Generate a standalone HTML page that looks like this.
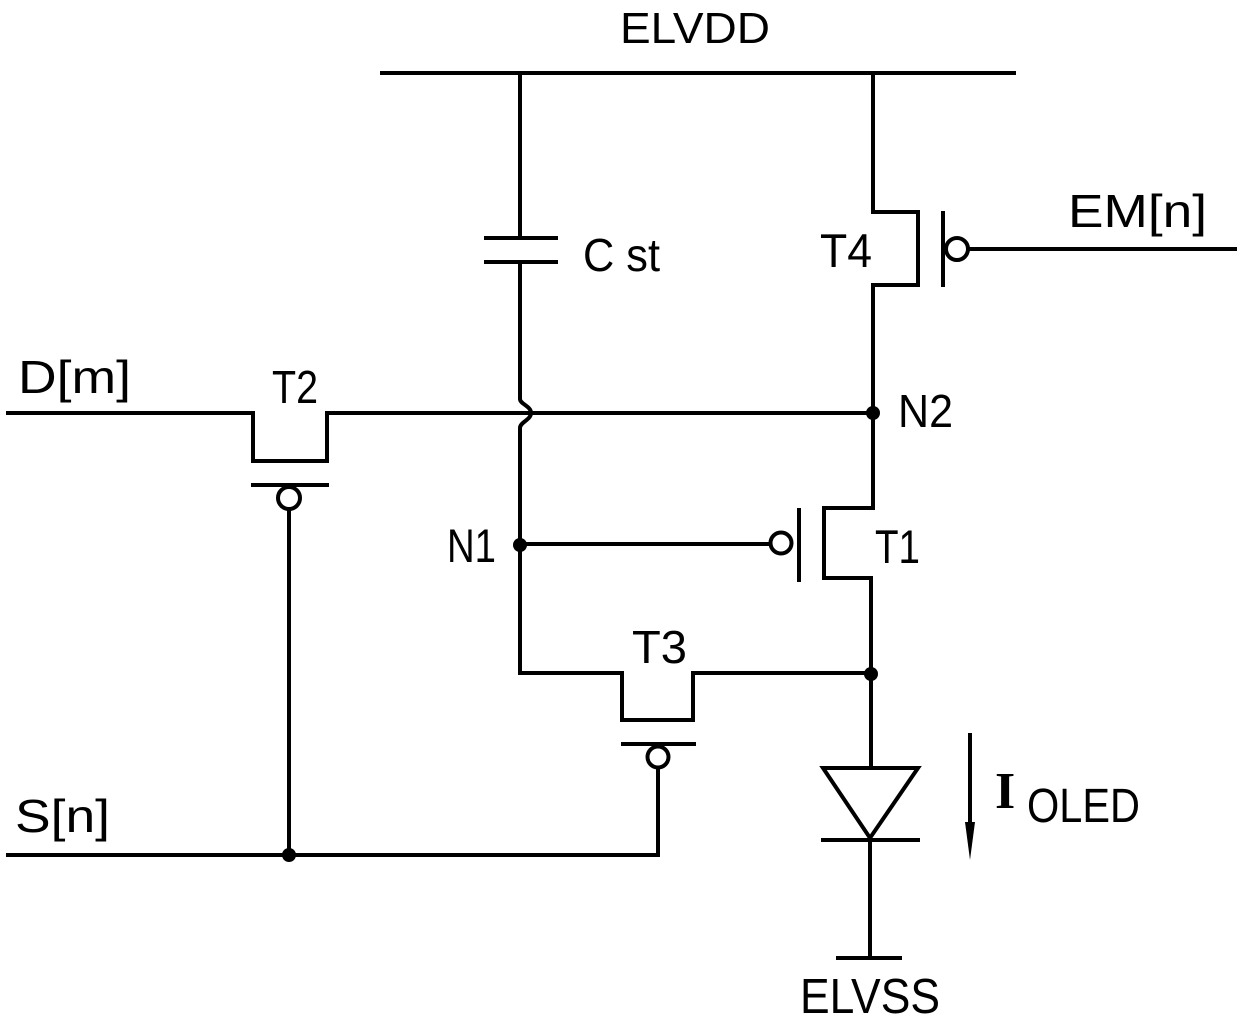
<!DOCTYPE html>
<html><head><style>
html,body{margin:0;padding:0;background:#fff;}
svg{display:block;}
text{font-family:"Liberation Sans",sans-serif;fill:#000;}
</style></head><body>
<svg width="1240" height="1024" viewBox="0 0 1240 1024" xmlns="http://www.w3.org/2000/svg">
<g stroke="#000" stroke-width="4" fill="none" stroke-linecap="square" stroke-linejoin="miter">
<line x1="382" y1="73" x2="1014" y2="73"/>
<line x1="520" y1="73" x2="520" y2="238"/>
<line x1="486" y1="238" x2="556" y2="238"/>
<line x1="486" y1="262" x2="556" y2="262"/>
<path d="M520 262 L520 399 C520 404 531 406 531 413 C531 420 520 422 520 428 L520 673 L622 673 L622 720 L693 720 L693 673 L870 673"/>
<line x1="623" y1="744" x2="694" y2="744"/>
<circle cx="658" cy="757" r="10.5"/>
<line x1="658" y1="768" x2="658" y2="855"/>
<path d="M873 73 L873 212 L918 212 L918 285 L873 285 L873 508 L824 508 L824 578 L871 578 L871 768"/>
<line x1="943" y1="213" x2="943" y2="285"/>
<circle cx="957" cy="249" r="11"/>
<line x1="968" y1="249" x2="1235" y2="249"/>
<line x1="799" y1="510" x2="799" y2="580"/>
<circle cx="781" cy="543" r="10.5"/>
<line x1="520" y1="544" x2="770" y2="544"/>
<path d="M8 413 L253 413 L253 461 L327 461 L327 413 L873 413"/>
<line x1="253" y1="485" x2="327" y2="485"/>
<circle cx="289" cy="498" r="11"/>
<line x1="289" y1="509" x2="289" y2="855"/>
<line x1="8" y1="855" x2="658" y2="855"/>
<path d="M823 768 L918 768 L870 838 Z"/>
<line x1="823" y1="840" x2="918" y2="840"/>
<line x1="870" y1="840" x2="870" y2="958"/>
<line x1="838" y1="958" x2="900" y2="958"/>
<line x1="970" y1="735" x2="970" y2="825"/>
</g>
<path d="M965 822 L975 822 L970 860 Z" fill="#000"/>
<g fill="#000">
<circle cx="873" cy="413" r="7"/>
<circle cx="520" cy="545" r="7"/>
<circle cx="871" cy="674" r="7"/>
<circle cx="289" cy="855" r="7"/>
</g>
<text x="620" y="43" font-size="44" textLength="150" lengthAdjust="spacingAndGlyphs">ELVDD</text>
<text x="1068" y="227" font-size="46" textLength="139" lengthAdjust="spacingAndGlyphs">EM[n]</text>
<text x="820" y="267" font-size="47" textLength="52" lengthAdjust="spacingAndGlyphs">T4</text>
<text x="583" y="271" font-size="46" textLength="77" lengthAdjust="spacingAndGlyphs">C st</text>
<text x="18" y="393" font-size="46" textLength="113" lengthAdjust="spacingAndGlyphs">D[m]</text>
<text x="272" y="403" font-size="46" textLength="46" lengthAdjust="spacingAndGlyphs">T2</text>
<text x="898" y="427" font-size="46" textLength="55" lengthAdjust="spacingAndGlyphs">N2</text>
<text x="447" y="562" font-size="47" textLength="49" lengthAdjust="spacingAndGlyphs">N1</text>
<text x="875" y="563" font-size="47" textLength="45" lengthAdjust="spacingAndGlyphs">T1</text>
<text x="632" y="663" font-size="46" textLength="55" lengthAdjust="spacingAndGlyphs">T3</text>
<text x="15" y="832" font-size="46" textLength="95" lengthAdjust="spacingAndGlyphs">S[n]</text>
<text x="995" y="808" font-size="52" font-weight="bold" style="font-family:'Liberation Serif',serif">I</text>
<text x="1027" y="822" font-size="48" textLength="113" lengthAdjust="spacingAndGlyphs">OLED</text>
<text x="800" y="1013" font-size="49" textLength="140" lengthAdjust="spacingAndGlyphs">ELVSS</text>
</svg>
</body></html>
